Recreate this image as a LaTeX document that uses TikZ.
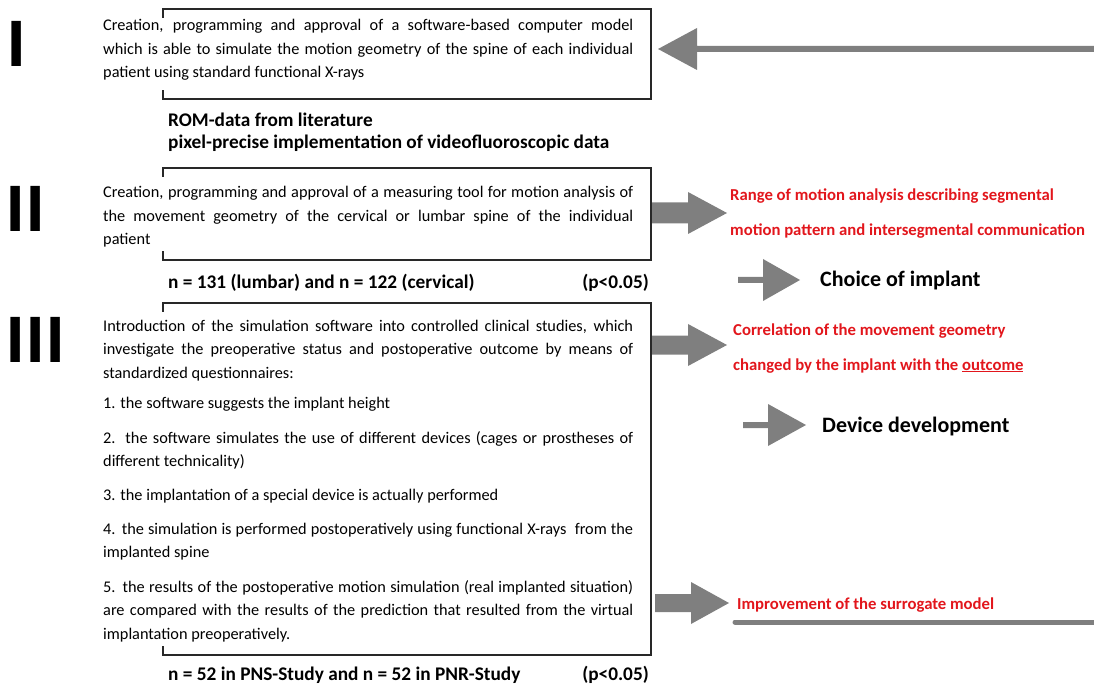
\documentclass[tikz,border=0pt]{standalone}
\usepackage{fontspec}
\setmainfont{Carlito}
\newfontfamily\numeralfont{Liberation Sans}
\usetikzlibrary{calc}

\definecolor{flowgray}{RGB}{127,127,127}
\definecolor{resultred}{RGB}{226,22,28}
\definecolor{framegray}{RGB}{40,40,40}

% justified paragraph of fixed width, breaks set by hand
\newcommand{\stagepar}[1]{\parbox[t]{530pt}{\tolerance=10000\hyphenpenalty=10000 #1}}
% open-left frame with short corner ticks
\newcommand{\stageframe}[1]{\draw[frame] ($(#1nw)+(0,9)$) -- (#1nw) -- (#1nw -| #1se) -- (#1se) -- (#1se -| #1nw) -- ++(0,-9);}
% block arrows: start, tip, shaft half-width, head length, head half-width
\newcommand{\rightblock}[5]{\fill[blockarrow] (#2) -- ++(-#4,-#5) -- ++(0,{#5-#3}) -- ($(#1)+(0,-#3)$) -- ($(#1)+(0,#3)$) -- ($(#2)+(-#4,#3)$) -- ++(0,{#5-#3}) -- cycle;}
\newcommand{\leftblock}[5]{\fill[blockarrow] (#2) -- ++(#4,-#5) -- ++(0,{#5-#3}) -- ($(#1)+(0,-#3)$) -- ($(#1)+(0,#3)$) -- ($(#2)+(#4,#3)$) -- ++(0,{#5-#3}) -- cycle;}

\begin{document}
\begin{tikzpicture}[x=1pt,y=-1pt,
  frame/.style={draw=framegray,line width=1.1pt},
  boxtext/.style={anchor=base west,inner sep=0pt,font=\fontsize{16.3}{23.5}\selectfont},
  caption/.style={anchor=base west,inner sep=0pt,font=\bfseries\fontsize{19.3}{22}\selectfont},
  pvalue/.style={anchor=base east,inner sep=0pt,font=\bfseries\fontsize{19.3}{22}\selectfont},
  result/.style={anchor=base west,inner sep=0pt,text=resultred,font=\bfseries\fontsize{16.7}{20}\selectfont},
  target/.style={anchor=base west,inner sep=0pt,font=\bfseries\fontsize{22}{26}\selectfont},
  numeral/.style={anchor=base west,inner sep=0pt,font=\numeralfont\bfseries\fontsize{65.6}{66}\selectfont},
  blockarrow/.style={fill=flowgray},
  feedback/.style={draw=flowgray,line width=5pt,line cap=round},
]
\useasboundingbox (0,0) rectangle (1094,684);

% stage numerals
\node[numeral] (n1) at (7.8,67) {I};
\node[numeral] (n2) at (5.8,232) {I\kern1.8pt I};
\node[numeral] (n3) at (5.8,362) {I\kern1.8pt I\kern1.8pt I};

% frames
\coordinate (f1nw) at (163,9);   \coordinate (f1se) at (651,99);
\coordinate (f2nw) at (163,168); \coordinate (f2se) at (651,260);
\coordinate (f3nw) at (163,303); \coordinate (f3se) at (651,655);
\stageframe{f1}
\stageframe{f2}
\stageframe{f3}

% stage I
\node[boxtext] (s1) at (103,31) {\stagepar{Creation, programming and approval of a software-based computer model \linebreak which is able to simulate the motion geometry of the spine of each individual \linebreak patient using standard functional X-rays}};
\node[caption] (rom1) at (168,127) {ROM-data from literature};
\node[caption] (rom2) at (168,149) {pixel-precise implementation of videofluoroscopic data};

% stage II
\node[boxtext] (s2) at (103,198) {\stagepar{Creation, programming and approval of a measuring tool for motion analysis of \linebreak the movement geometry of the cervical or lumbar spine of the individual \linebreak patient}};
\node[caption] (nII) at (168,289) {n = 131 (lumbar) and n = 122 (cervical)};
\node[pvalue] (pII) at (649,289) {(p<0.05)};

% stage III
\node[boxtext] (s3a) at (103,331) {\stagepar{Introduction of the simulation software into controlled clinical studies, which \linebreak investigate the preoperative status and postoperative outcome by means of \linebreak standardized questionnaires:}};
\node[boxtext] (s3b) at (103,408) {\stagepar{1. the software suggests the implant height}};
\node[boxtext] (s3c) at (103,443) {\stagepar{2. the software simulates the use of different devices (cages or prostheses of \linebreak different technicality)}};
\node[boxtext] (s3d) at (103,500) {\stagepar{3. the implantation of a special device is actually performed}};
\node[boxtext] (s3e) at (103,534) {\stagepar{4. the simulation is performed postoperatively using functional X-rays\ \ from the \linebreak implanted spine}};
\node[boxtext] (s3f) at (103,592) {\stagepar{5. the results of the postoperative motion simulation (real implanted situation) \linebreak are compared with the results of the prediction that resulted from the virtual \linebreak implantation preoperatively.}};
\node[caption] (nIII) at (168,680) {n = 52 in PNS-Study and n = 52 in PNR-Study};
\node[pvalue] (pIII) at (649,680) {(p<0.05)};

% results
\node[result] (rom) at (730,201) {Range of motion analysis describing segmental};
\node[result] (rom') at (730,236) {motion pattern and intersegmental communication};
\node[target] (choice) at (820,287) {Choice of implant};
\node[result] (corr) at (733,335) {Correlation of the movement geometry};
\node[result] (corr') at (733,370) {changed by the implant with the \underline{outcome}};
\node[target] (device) at (822,432) {Device development};
\node[result] (impr) at (737,609) {Improvement of the surrogate model};

% arrows
\coordinate (a2s) at (652,213); \coordinate (a2t) at (727,213);
\coordinate (a3s) at (652,345); \coordinate (a3t) at (727,345);
\coordinate (a5s) at (655,603); \coordinate (a5t) at (729,603);
\coordinate (ac) at (738,280);  \coordinate (act) at (800,280);
\coordinate (ad) at (743,425);  \coordinate (adt) at (806,425);
\rightblock{a2s}{a2t}{10.5}{39}{21}
\rightblock{a3s}{a3t}{9.5}{39}{21}
\rightblock{a5s}{a5t}{9}{38}{21}
\rightblock{ac}{act}{3}{37}{21}
\rightblock{ad}{adt}{3}{38}{21}

% feedback loop back to stage I
\coordinate (fbs) at (1094,49); \coordinate (fbt) at (658,49);
\leftblock{fbs}{fbt}{3}{39}{21}
\coordinate (fbl) at (735,622); \coordinate (fbr) at (1094,622);
\draw[feedback] (fbl) -- (fbr);
\end{tikzpicture}
\end{document}
